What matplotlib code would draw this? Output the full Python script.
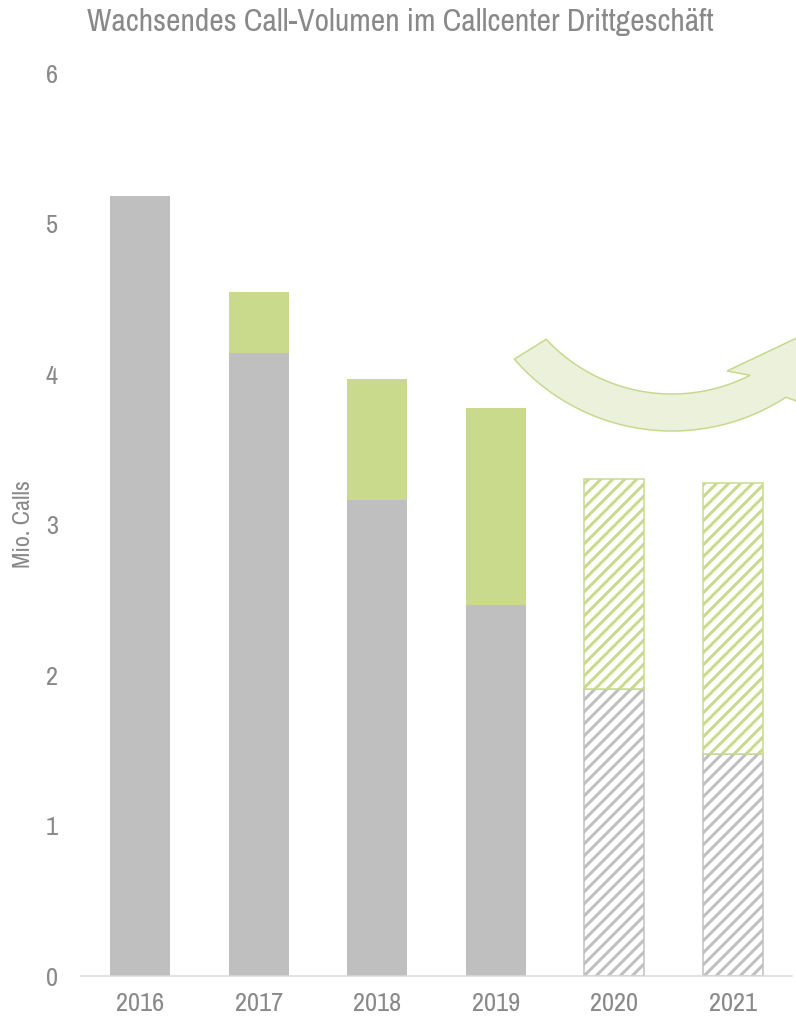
import numpy as np
import matplotlib
matplotlib.use("Agg")
import matplotlib.pyplot as plt
from matplotlib.patches import Polygon
from matplotlib import transforms

# ---- data ----
years = ["2016", "2017", "2018", "2019", "2020", "2021"]
base_calls = [5.18, 4.14, 3.16, 2.465, 1.905, 1.475]
extra_calls = [0.0, 0.405, 0.81, 1.31, 1.40, 1.80]
forecast = [False, False, False, False, True, True]
y_ticks = [0, 1, 2, 3, 4, 5, 6]
title = "Wachsendes Call-Volumen im Callcenter Drittgeschäft"
y_label = "Mio. Calls"

GRAY = "#bfbfbf"
GREEN = "#c9da8c"
TEXT = "#898989"
FONT = ["Archivo Narrow", "DejaVu Sans"]

plt.rcParams["font.family"] = FONT
plt.rcParams["hatch.linewidth"] = 3.0

W, H, DPI = 796, 1020, 72
fig = plt.figure(figsize=(W / DPI, H / DPI), dpi=DPI)
ax = fig.add_axes([81 / W, 1 - 976 / H, (792 - 81) / W, (976 - 73) / H])

x = np.arange(len(years))
bw = 0.51
for i in range(len(years)):
    if forecast[i]:
        ax.bar(x[i], base_calls[i], bw, color="white", edgecolor=GRAY,
               hatch="//", linewidth=1.5, zorder=2)
        ax.bar(x[i], extra_calls[i], bw, bottom=base_calls[i], color="white",
               edgecolor=GREEN, hatch="//", linewidth=1.5, zorder=2)
    else:
        ax.bar(x[i], base_calls[i], bw, color=GRAY, linewidth=0, zorder=2)
        if extra_calls[i] > 0:
            ax.bar(x[i], extra_calls[i], bw, bottom=base_calls[i], color=GREEN,
                   linewidth=0, zorder=2)

ax.set_xlim(-0.5, len(years) - 0.5)
ax.set_ylim(0, 6)
ax.set_xticks(x)
ax.set_xticklabels(years)
ax.set_yticks(y_ticks)
ax.tick_params(axis="both", length=0, labelsize=26.5, labelcolor=TEXT)
ax.tick_params(axis="y", pad=23)
ax.tick_params(axis="x", pad=16)
for s in ["top", "right", "left"]:
    ax.spines[s].set_visible(False)
ax.spines["bottom"].set_color("#d9d9d9")
ax.spines["bottom"].set_linewidth(1.5)
ax.set_ylabel(y_label, fontsize=24, color=TEXT, labelpad=12)
ax.patch.set_alpha(0)

fig.text(400 / W, 1 - 22 / H, title, ha="center", va="center",
         fontsize=31.5, color=TEXT)

# ---- decorative curved arrow (pixel space, y from top) ----
cx, cy = 672, 222
r_in, r_out = 172, 209
a_in = np.radians(np.linspace(137, 63, 60))
a_out = np.radians(np.linspace(57, 139, 60))
inner = np.column_stack([cx + r_in * np.cos(a_in), cy + r_in * np.sin(a_in)])
outer = np.column_stack([cx + r_out * np.cos(a_out), cy + r_out * np.sin(a_out)])
head = np.array([[727, 371], [803, 335], [828, 412]])
pts = np.vstack([inner, head, outer])
to_fig = transforms.Affine2D().scale(1 / W, -1 / H).translate(0, 1) + fig.transFigure
arrow = Polygon(pts, closed=True, facecolor="#ebf1da", edgecolor="#c5d98c",
                linewidth=1.5, transform=to_fig, zorder=5)
fig.add_artist(arrow)

fig.savefig("out.png", dpi=DPI)
